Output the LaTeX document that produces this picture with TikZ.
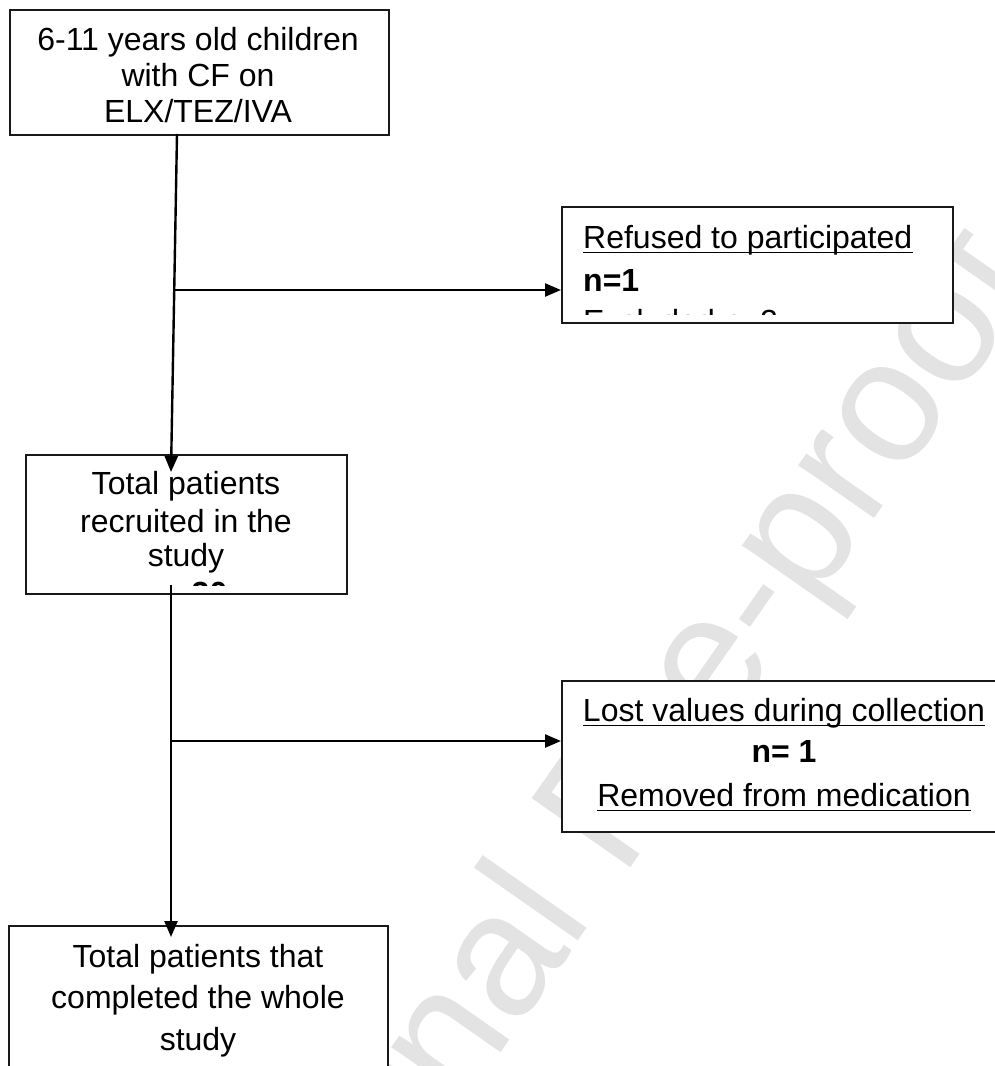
\documentclass[tikz,border=0pt]{standalone}
\usepackage{fontspec}
\setmainfont{Liberation Sans}
\usetikzlibrary{arrows.meta}
\begin{document}
\begin{tikzpicture}[x=1pt,y=-1pt,
  box/.style={draw=black!90,fill=white,line width=1.8pt,inner sep=0pt,anchor=north west},
  txt/.style={inner sep=0pt,anchor=base,font=\fontsize{32}{36}\selectfont},
  txtl/.style={txt,anchor=base west},
  bld/.style={font=\fontsize{32}{36}\selectfont\bfseries},
  arr/.style={line width=2.4pt,-{Triangle[length=16pt,width=13pt]}},
  uline/.style={line width=1.8pt},
  wm/.style={text=black!11,font=\fontsize{175}{180}\selectfont,rotate=55,inner sep=0pt,anchor=base west}]
\useasboundingbox (0,0) rectangle (995,1066);
\clip (0,0) rectangle (995,1066);
% watermark
\node[wm] (wmk) at (265,1389) {Journal Pre-proof};
% boxes
\node[box,minimum width=379pt,minimum height=125pt] (b1) at (9,9) {};
\node[box,minimum width=391pt,minimum height=116pt] (rf) at (561,206) {};
\node[box,minimum width=321pt,minimum height=139pt] (b2) at (25,454) {};
\node[box,minimum width=446pt,minimum height=151pt] (lv) at (561,680) {};
\node[box,minimum width=379pt,minimum height=200pt] (b3) at (8,925) {};
% texts
\node[txt] (t1a) at (198,50) {6-11 years old children};
\node[txt] (t1b) at (198,86) {with CF on};
\node[txt] (t1c) at (198,122) {ELX/TEZ/IVA};
\node[txtl] (rfa) at (583,248) {Refused to participated};
\node[txtl,bld] (rfb) at (583,291) {n=1};
\begin{scope}
\clip (561,206) rectangle (952,314);
\node[txtl] (rfc) at (583,332) {Excluded n=2};
\end{scope}
\node[txt] (b2a) at (186,494) {Total patients};
\node[txt] (b2b) at (186,532) {recruited in the};
\node[txt] (b2c) at (186,566.5) {study};
\begin{scope}
\clip (25,454) rectangle (346,585);
\node[txt,bld] (b2d) at (186,604) {n= 30};
\end{scope}
\node[txt] (lva) at (784,721) {Lost values during collection};
\node[txt,bld] (lvb) at (784,762) {n= 1};
\node[txt] (lvc) at (784,806) {Removed from medication};
\node[txt] (b3a) at (198,967) {Total patients that};
\node[txt] (b3b) at (198,1008) {completed the whole};
\node[txt] (b3c) at (198,1050) {study};
% underlines
\draw[uline] ([yshift=-4.5pt]rfa.base west) -- ([yshift=-4.5pt]rfa.base east);
\draw[uline] ([yshift=-4.5pt]lva.base west) -- ([yshift=-4.5pt]lva.base east);
\draw[uline] ([yshift=-4.5pt]lvc.base west) -- ([yshift=-4.5pt]lvc.base east);
% connectors
\coordinate (j0) at (177,134);
\coordinate (e1) at (171,472);
\coordinate (j1) at (175,290);
\coordinate (j2) at (171,585);
\coordinate (e2) at (171,937);
\coordinate (j3) at (171,741);
\draw[arr] (j0) -- (e1);
\draw[arr] (j1) -- (rf.west |- j1);
\draw[arr] (j2) -- (e2);
\draw[arr] (j3) -- (lv.west |- j3);
\end{tikzpicture}
\end{document}
